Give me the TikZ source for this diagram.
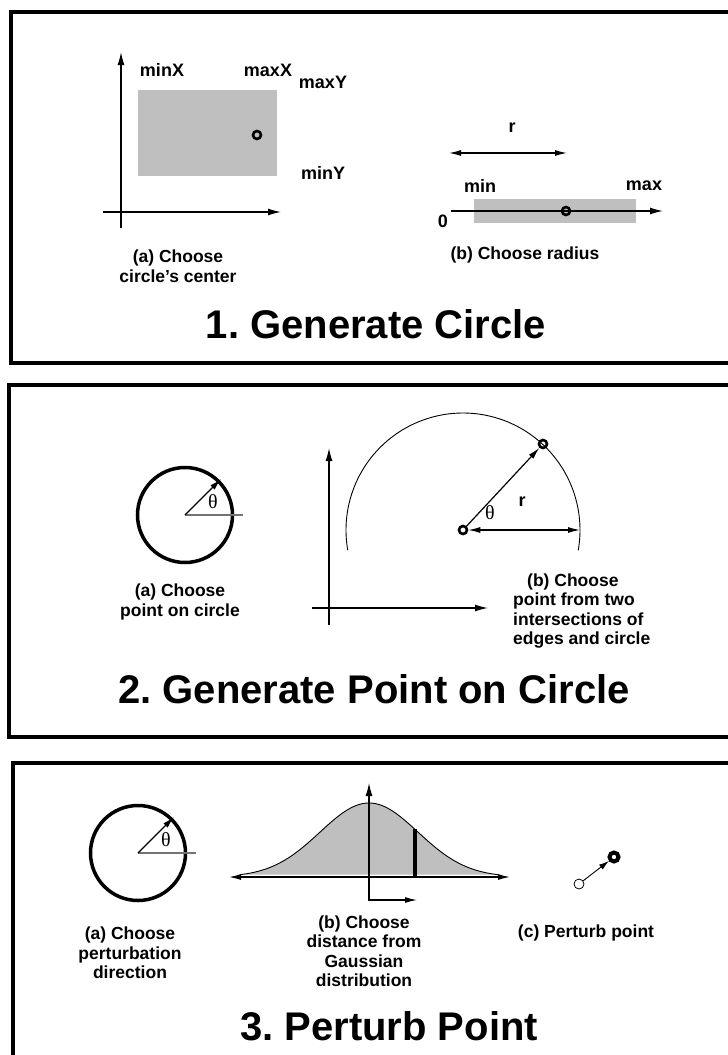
\documentclass[tikz,border=0pt]{standalone}
\usepackage{fontspec}
\setmainfont{Liberation Sans}
\newfontfamily\thetafont{Liberation Serif}
\usetikzlibrary{arrows.meta}
\frenchspacing
\begin{document}
\begin{tikzpicture}[x=1pt,y=-1pt,
  boxframe/.style={line width=4pt},
  lbl/.style={font=\bfseries\fontsize{18}{20}\selectfont, inner sep=0pt},
  captext/.style={font=\bfseries\fontsize{17.5}{19.5}\selectfont, align=center, inner sep=0pt},
  ttl/.style={font=\bfseries\fontsize{40}{44}\selectfont, inner sep=0pt, anchor=base},
  axisarrow/.style={line width=1.3pt, -{Latex[length=13pt,width=7pt]}},
  arr/.style={line width=1.2pt, -{Latex[length=12pt,width=6pt]}},
  dbl/.style={line width=1.1pt, {Latex[length=12pt,width=6pt]}-{Latex[length=12pt,width=6pt]}},
  ring/.style={circle, draw, line width=2.6pt, minimum size=8pt, inner sep=0pt},
  dotring/.style={circle, draw, line width=4pt, minimum size=9pt, inner sep=0pt},
  hollow/.style={circle, draw, line width=0.8pt, minimum size=10pt, inner sep=0pt},
  bigcirc/.style={circle, draw, line width=3.5pt, minimum size=95pt, inner sep=0pt},
  th/.style={font=\thetafont\fontsize{20}{20}\selectfont, inner sep=0pt},
  greyfill/.style={fill=black!25},
  ]
\useasboundingbox (0,0) rectangle (728,1055);
\clip (0,0) rectangle (728,1055);

% ---------- Panel 1 ----------
\draw[boxframe] (11,12) rectangle (800,363);
\fill[greyfill] (138,90) rectangle (277,176);
\coordinate (a1o) at (121,228); \coordinate (a1y) at (121,52);
\coordinate (a1l) at (103,212); \coordinate (a1x) at (281,212);
\draw[axisarrow] (a1o) -- (a1y);
\draw[axisarrow] (a1l) -- (a1x);
\node[ring] (c1) at (257,135) {};
\node[lbl] (minX) at (162,70) {minX};
\node[lbl] (maxX) at (268,70) {maxX};
\node[lbl] (maxY) at (323,82) {maxY};
\node[lbl] (minY) at (323,173) {minY};
\node[captext] (capa1) at (178,266) {(a) Choose\\circle’s center};

\fill[greyfill] (474,199) rectangle (636,223);
\coordinate (z0) at (451,211); \coordinate (zx) at (663,211);
\draw[axisarrow] (z0) -- (zx);
\node[ring] (rr) at (566,211) {};
\coordinate (rl) at (449,153); \coordinate (rrt) at (567,153);
\draw[dbl] (rl) -- (rrt);
\node[lbl] (rlab) at (512,128) {r};
\node[lbl] (minl) at (480,186) {min};
\node[lbl] (maxl) at (644,186) {max};
\node[lbl] (zero) at (443,221) {0};
\node[captext] (capb1) at (525,255) {(b) Choose radius};
\node[ttl] (t1) at (376,338) {1. Generate Circle};

% ---------- Panel 2 ----------
\draw[boxframe] (9,385) rectangle (800,737);
\node[bigcirc] (pc) at (185,515) {};
\coordinate (pch) at (243,515); \coordinate (pca) at (221,479);
\draw[black!55, line width=1.2pt] (pc.center) -- (pch);
\draw[arr] (pc.center) -- (pca);
\node[th] (th2) at (213,502) {θ};
\node[captext] (capa2) at (180,602) {(a) Choose\\point on circle};

\draw[line width=0.9pt] plot[domain=-10:190, samples=120] ({463+117*cos(\x)}, {530-117*sin(\x)});
\node[ring] (cr) at (463,530) {};
\node[ring] (pr) at (543,444) {};
\coordinate (ae) at (580,530);
\draw[arr] (cr) -- (pr);
\draw[dbl] (cr) -- (ae);
\node[th] (th2b) at (490,513) {θ};
\node[lbl] (r2) at (522,502) {r};
\coordinate (a2o) at (329,625); \coordinate (a2y) at (329,448);
\coordinate (a2l) at (312,608); \coordinate (a2x) at (488,608);
\draw[axisarrow] (a2o) -- (a2y);
\draw[axisarrow] (a2l) -- (a2x);
\node[captext, align=left, anchor=west] (capb2) at (513,611) {\hspace*{14pt}(b) Choose\\point from two\\intersections of\\edges and circle};
\node[ttl] (t2) at (374,703) {2. Generate Point on Circle};

% ---------- Panel 3 ----------
\draw[boxframe] (13,763) rectangle (800,1120);
\node[bigcirc] (pc3) at (138,853) {};
\coordinate (pc3h) at (196,853); \coordinate (pc3a) at (174,817);
\draw[black!55, line width=1.2pt] (pc3.center) -- (pc3h);
\draw[arr] (pc3.center) -- (pc3a);
\node[th] (th3) at (166,840) {θ};
\node[captext] (capa3) at (130,953) {(a) Choose\\perturbation\\direction};

\fill[greyfill] plot[domain=240:498, samples=100] (\x, {877-74*exp(-0.5*((\x-369)/49)^2)}) -- cycle;
\draw[line width=0.9pt] plot[domain=240:498, samples=100] (\x, {877-74*exp(-0.5*((\x-369)/49)^2)});
\coordinate (bt) at (415,{877-74*exp(-0.5*((415-369)/49)^2)});
\coordinate (bb) at (415,877);
\draw[line width=4pt] (bt) -- (bb);
\coordinate (gl) at (229,877); \coordinate (gr) at (510,877);
\draw[dbl, line width=1.3pt] (gl) -- (gr);
\coordinate (gy) at (369,783); \coordinate (gc) at (369,900); \coordinate (gx) at (417,900);
\draw[line width=1.1pt, {Latex[length=13pt,width=7pt]}-{Latex[length=12pt,width=6pt]}] (gy) -- (gc) -- (gx);
\node[captext] (capb3) at (364,951) {(b) Choose\\distance from\\Gaussian\\distribution};

\node[hollow] (sp) at (579,884) {};
\node[dotring] (bp) at (614,857) {};
\draw[line width=0.9pt, -{Latex[length=10pt,width=6pt]}] (sp) -- (bp);
\node[captext] (capc3) at (586,933) {(c) Perturb point};
\node[ttl] (t3) at (389,1040) {3. Perturb Point};
\end{tikzpicture}
\end{document}
